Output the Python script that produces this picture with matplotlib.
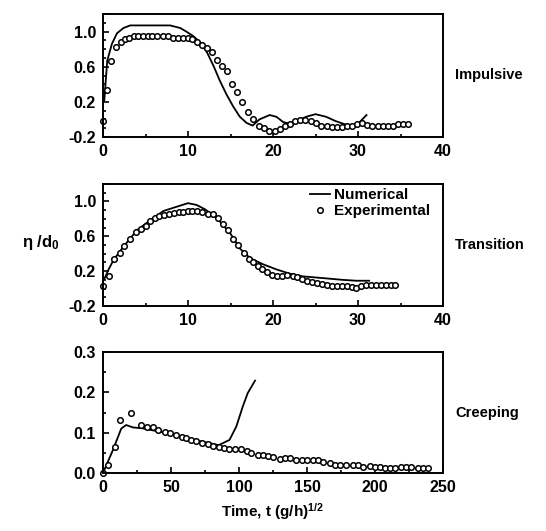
import matplotlib
matplotlib.use("Agg")
import matplotlib.pyplot as plt
from matplotlib.ticker import MultipleLocator

plt.rcParams['font.family'] = ['Liberation Sans', 'DejaVu Sans']
plt.rcParams['font.weight'] = 'bold'
plt.rcParams['mathtext.fontset'] = 'custom'
plt.rcParams['mathtext.rm'] = 'Liberation Sans:bold'
plt.rcParams['mathtext.it'] = 'Liberation Sans:bold'

# Impulsive
imp_exp_t = [0, 0.47, 0.94, 1.56, 2.1, 2.6, 3.1, 3.6, 4.1, 4.7, 5.3, 5.8, 6.4, 7.0, 7.6,
             8.2, 8.8, 9.4, 10.0, 10.5, 11.0, 11.6, 12.2, 12.8, 13.4, 14.0, 14.6, 15.2,
             15.8, 16.4, 17.0, 17.7, 18.3, 18.9, 19.5, 20.2, 20.8, 21.4, 22.0, 22.6,
             23.2, 23.8, 24.5, 25.1, 25.7, 26.3, 26.9, 27.5, 28.1, 28.7, 29.3, 29.9,
             30.5, 31.1, 31.7, 32.3, 32.9, 33.5, 34.1, 34.7, 35.3, 35.9]
imp_exp_y = [-0.02, 0.33, 0.67, 0.83, 0.88, 0.91, 0.93, 0.95, 0.95, 0.95, 0.95, 0.95, 0.95, 0.95, 0.95,
             0.93, 0.93, 0.93, 0.93, 0.91, 0.88, 0.85, 0.81, 0.77, 0.68, 0.61, 0.55, 0.40,
             0.31, 0.20, 0.08, 0.0, -0.07, -0.10, -0.13, -0.13, -0.11, -0.08, -0.05, -0.02,
             -0.01, -0.01, -0.02, -0.04, -0.07, -0.08, -0.09, -0.09, -0.09, -0.08, -0.08, -0.05,
             -0.04, -0.06, -0.07, -0.07, -0.07, -0.07, -0.07, -0.05, -0.05, -0.05]
imp_num_t = [0.15, 0.5, 1.05, 1.64, 2.4, 3.2, 7.9, 9.1, 9.8, 10.6, 11.4, 12.2, 13.0, 13.75,
             14.5, 15.3, 16.1, 16.9, 17.6, 18.4, 19.6, 20.4, 21.2, 22.0, 22.7, 23.9, 25.0,
             26.25, 27.4, 28.6, 29.4, 30.2, 31.0]
imp_num_y = [0.21, 0.67, 0.86, 0.98, 1.04, 1.07, 1.07, 1.04, 1.0, 0.95, 0.88, 0.77, 0.61, 0.44,
             0.29, 0.15, 0.03, -0.04, -0.07, 0.0, 0.05, 0.03, -0.03, -0.05, -0.02, 0.03, 0.06,
             0.03, -0.02, -0.06, -0.07, -0.03, 0.05]

# Transition
tr_exp_t = [0, 0.66, 1.33, 1.95, 2.5, 3.2, 3.9, 4.45, 5.0, 5.5, 6.1, 6.6, 7.2, 7.8, 8.3, 8.9,
            9.45, 10.0, 10.5, 11.1, 11.7, 12.3, 12.9, 13.5, 14.1, 14.7, 15.3, 15.9, 16.6,
            17.2, 17.7, 18.2, 18.75, 19.3, 19.9, 20.5, 21.1, 21.6, 22.3, 22.8, 23.4, 24.0,
            24.6, 25.2, 25.8, 26.3, 26.9, 27.5, 28.1, 28.7, 29.3, 29.8, 30.3, 30.9, 31.5,
            32.1, 32.7, 33.3, 33.9, 34.4]
tr_exp_y = [0.03, 0.15, 0.34, 0.41, 0.49, 0.57, 0.65, 0.68, 0.72, 0.78, 0.81, 0.83, 0.84, 0.86,
            0.87, 0.88, 0.88, 0.885, 0.89, 0.885, 0.88, 0.86, 0.86, 0.81, 0.74, 0.67, 0.57,
            0.50, 0.41, 0.34, 0.30, 0.26, 0.22, 0.19, 0.16, 0.14, 0.14, 0.16, 0.14, 0.13,
            0.11, 0.09, 0.07, 0.06, 0.05, 0.04, 0.03, 0.03, 0.03, 0.03, 0.02, 0.01, 0.03,
            0.04, 0.04, 0.04, 0.04, 0.04, 0.04, 0.04]
tr_num_t = [0.15, 0.66, 1.25, 2.4, 4.0, 5.5, 7.1, 8.7, 10.0, 11.0, 12.0, 13.4, 15.0, 16.1,
            17.3, 18.8, 20.4, 22.0, 23.5, 25.9, 28.2, 29.8, 31.3]
tr_num_y = [0.11, 0.22, 0.33, 0.48, 0.67, 0.78, 0.89, 0.94, 0.98, 0.96, 0.91, 0.81, 0.63, 0.46,
            0.35, 0.28, 0.22, 0.17, 0.14, 0.12, 0.10, 0.09, 0.09]

# Creeping
cr_exp_t = [0, 3.7, 8.6, 12.7, 20.8, 28, 32, 36.7, 40.4, 45.3, 49, 54, 58, 61, 65, 68.5, 73,
            77.5, 81, 85, 89, 93, 97, 101.5, 105.7, 109, 114, 118, 121.6, 125, 130, 134,
            137.5, 142, 146, 150, 154.6, 158, 162, 166.8, 170.5, 174, 179, 184, 187.6,
            191.3, 196, 200, 203.5, 207, 210.9, 215, 219, 222.6, 226.7, 231.6, 235, 239]
cr_exp_y = [0.0, 0.02, 0.064, 0.131, 0.148, 0.119, 0.115, 0.113, 0.107, 0.102, 0.098, 0.094,
            0.09, 0.086, 0.083, 0.079, 0.075, 0.072, 0.068, 0.065, 0.061, 0.059, 0.06, 0.06,
            0.055, 0.049, 0.045, 0.045, 0.042, 0.039, 0.034, 0.038, 0.036, 0.032, 0.032,
            0.032, 0.032, 0.032, 0.028, 0.024, 0.02, 0.02, 0.021, 0.021, 0.02, 0.016, 0.018,
            0.016, 0.014, 0.012, 0.012, 0.012, 0.014, 0.014, 0.014, 0.012, 0.012, 0.012]
cr_num_t = [0, 7.3, 13.4, 17, 22, 28.6, 50, 70, 85, 93, 98, 102.7, 106.4, 111.8]
cr_num_y = [0, 0.057, 0.11, 0.119, 0.113, 0.111, 0.097, 0.08, 0.069, 0.082, 0.115, 0.164,
            0.198, 0.229]

fig = plt.figure(figsize=(5.46, 5.31), dpi=100)
left, width = 103 / 546, 340 / 546
boxes = [(14, 137), (184, 306), (352, 473)]
axes = []
for top, bot in boxes:
    ax = fig.add_axes([left, 1 - bot / 531, width, (bot - top) / 531])
    axes.append(ax)

panels = [
    (imp_exp_t, imp_exp_y, imp_num_t, imp_num_y, "Impulsive"),
    (tr_exp_t, tr_exp_y, tr_num_t, tr_num_y, "Transition"),
    (cr_exp_t, cr_exp_y, cr_num_t, cr_num_y, "Creeping"),
]
for ax, (et, ey, nt, ny, name) in zip(axes, panels):
    ax.plot(nt, ny, color="black", lw=1.3, label="Numerical")
    ax.plot(et, ey, "o", mfc="white", mec="black", ms=4, mew=1.1, ls="none",
            label="Experimental", clip_on=False)
    ax.tick_params(direction="in", which="both", top=False, right=False,
                   labelsize=11.5, width=1.2)
    ax.tick_params(which="major", length=4, pad=5)
    ax.tick_params(which="minor", length=2.5)
    for s in ax.spines.values():
        s.set_linewidth(1.4)
    ax.text(1.035, 0.5, name, transform=ax.transAxes, fontsize=10.5,
            fontweight="bold", va="center", ha="left")

for ax in axes[:2]:
    ax.set_xlim(0, 40)
    ax.set_ylim(-0.2, 1.2)
    ax.set_xticks([0, 10, 20, 30, 40])
    ax.set_yticks([-0.2, 0.2, 0.6, 1.0])
    ax.set_yticklabels(["-0.2", "0.2", "0.6", "1.0"])
    ax.xaxis.set_minor_locator(MultipleLocator(5))
    ax.yaxis.set_minor_locator(MultipleLocator(0.1))

axes[2].set_xlim(0, 250)
axes[2].set_ylim(0, 0.3)
axes[2].set_xticks([0, 50, 100, 150, 200, 250])
axes[2].set_yticks([0.0, 0.1, 0.2, 0.3])
axes[2].set_yticklabels(["0.0", "0.1", "0.2", "0.3"])
axes[2].xaxis.set_minor_locator(MultipleLocator(25))
axes[2].yaxis.set_minor_locator(MultipleLocator(0.05))

axes[1].legend(loc="upper right", frameon=False, fontsize=11, handlelength=1.3,
               handletextpad=0.3, borderaxespad=0.1, labelspacing=0.15,
               bbox_to_anchor=(0.985, 1.03))

fig.text(22 / 546, 1 - 243 / 531, "η /d$_0$", fontsize=12, fontweight="bold",
         va="center", ha="left")
fig.text(272 / 546, 1 - 512 / 531, "Time, t (g/h)$^{1/2}$", fontsize=11,
         fontweight="bold", va="center", ha="center")

fig.savefig("out.png", dpi=100)
